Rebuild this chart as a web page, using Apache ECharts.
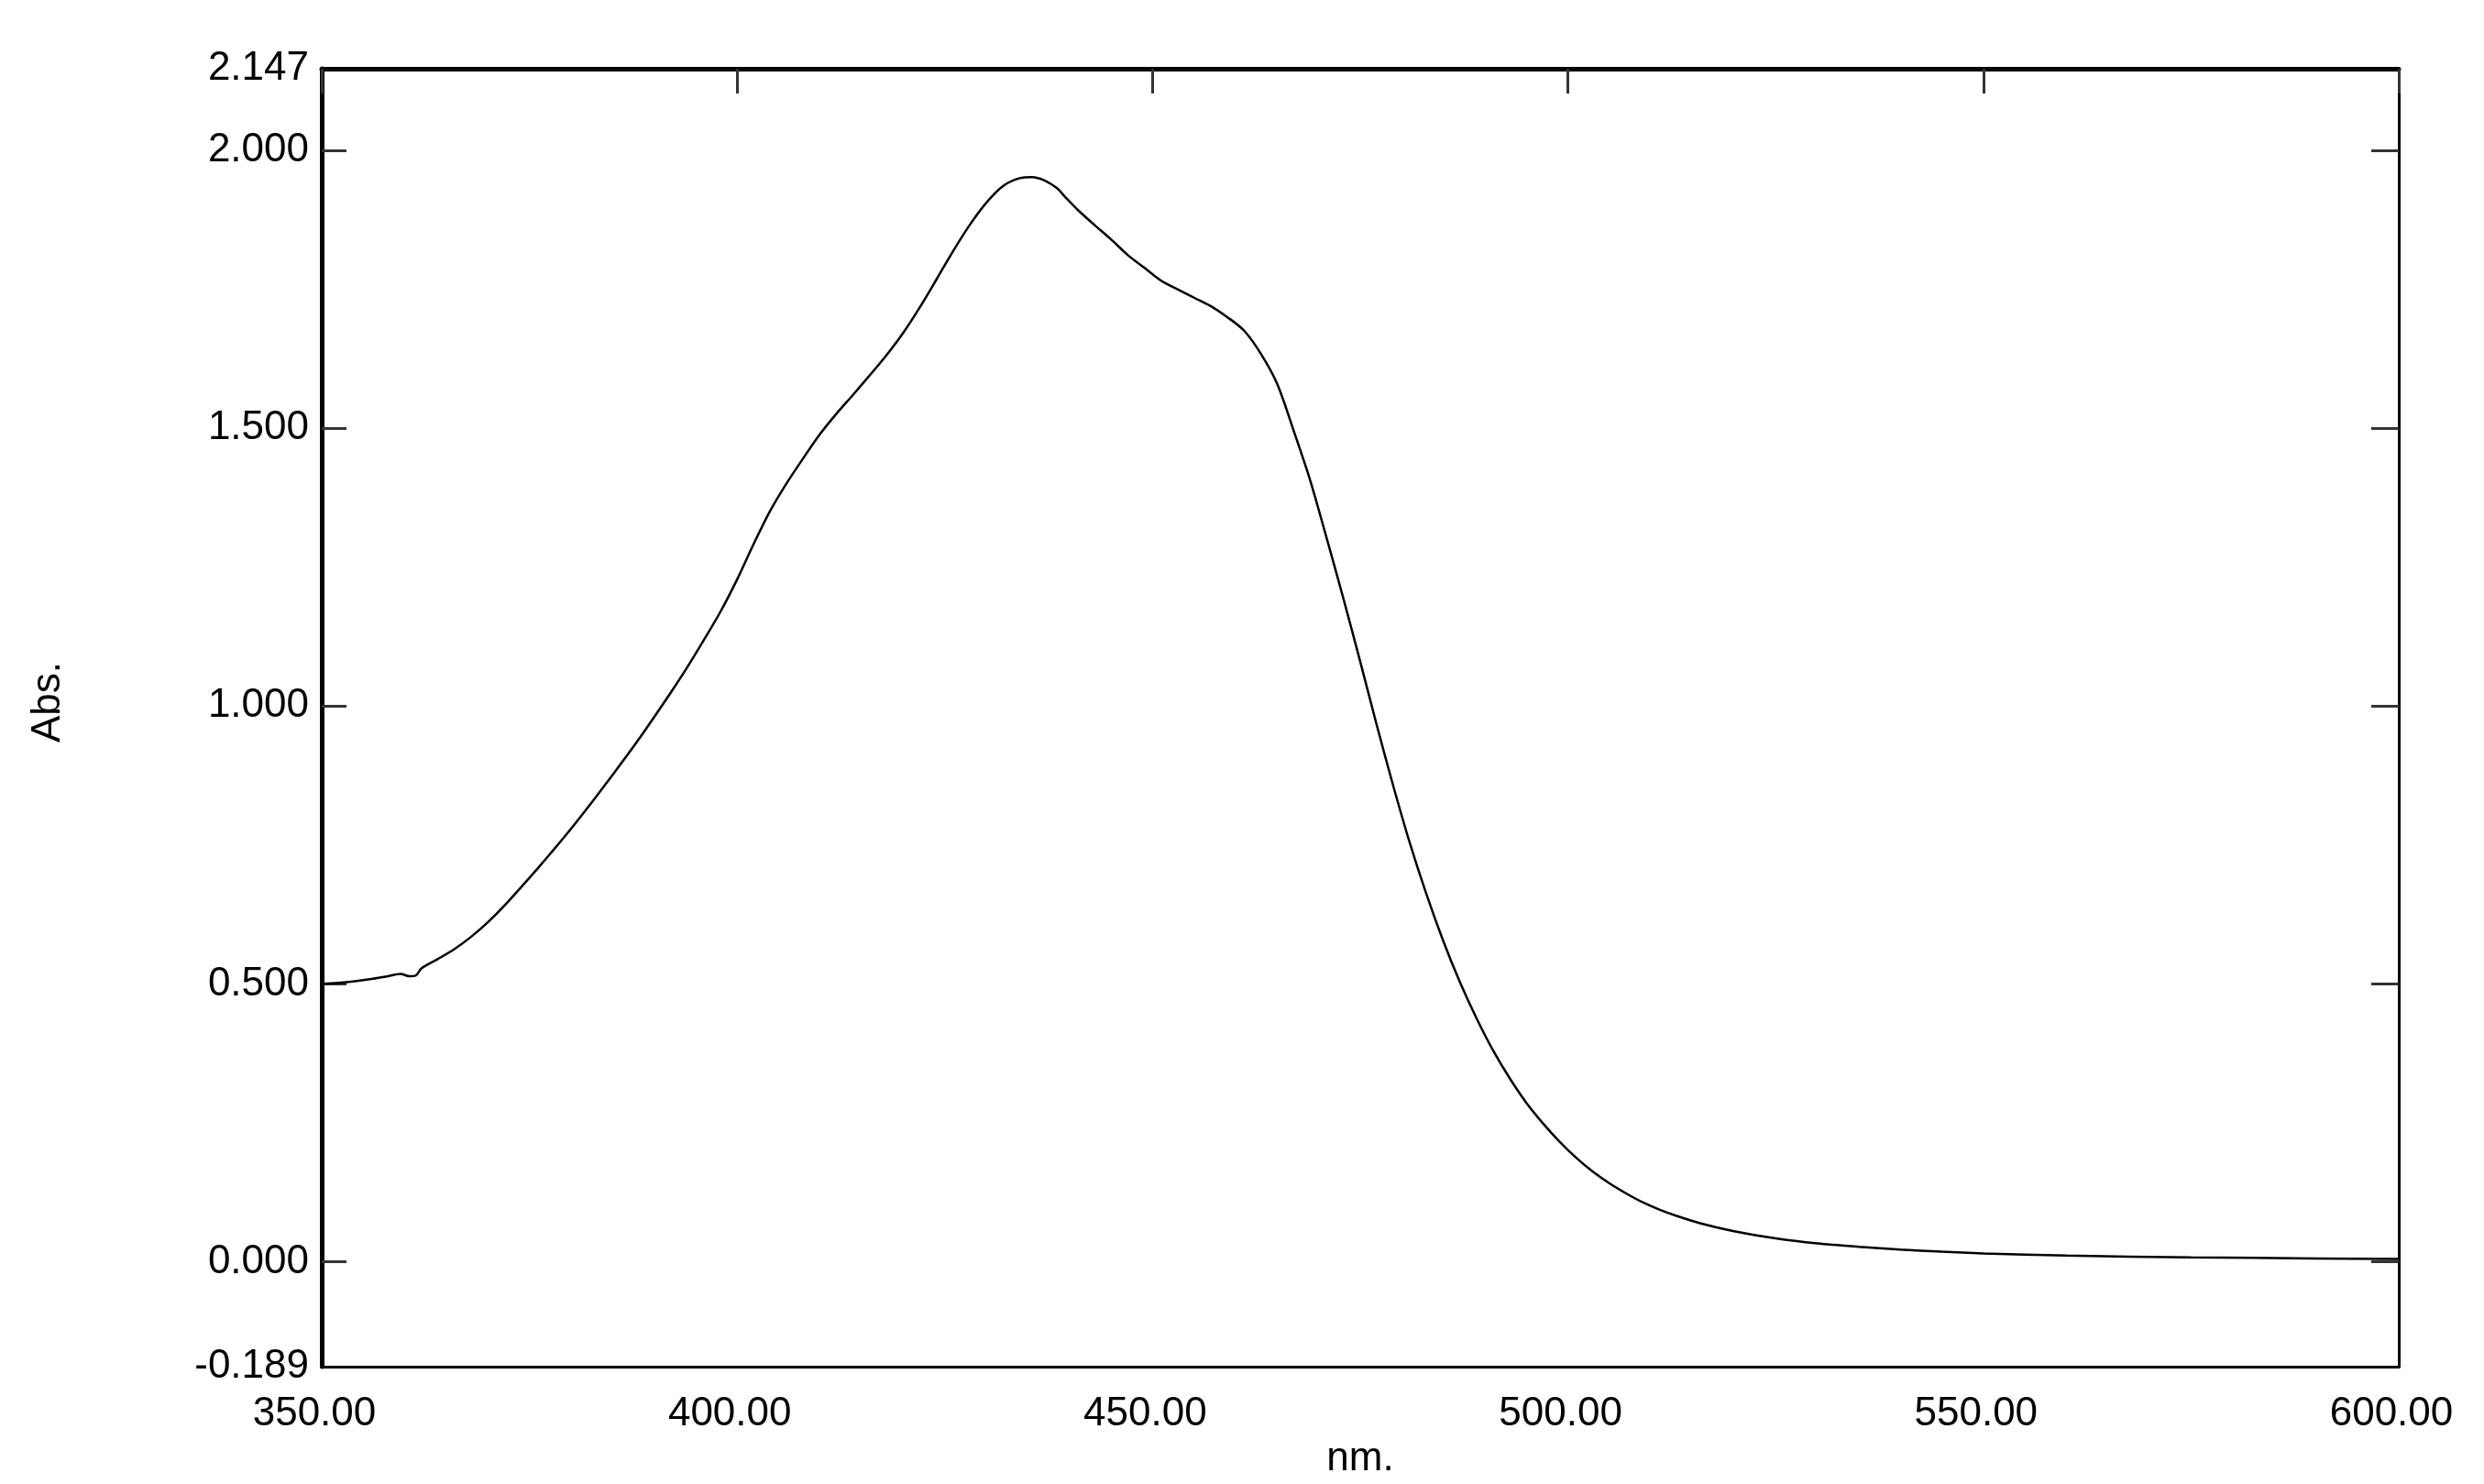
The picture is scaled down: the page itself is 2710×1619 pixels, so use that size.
<!DOCTYPE html>
<html>
<head>
<meta charset="utf-8">
<script src="https://cdn.jsdelivr.net/npm/echarts@6/dist/echarts.min.js"></script>
<style>
html,body{margin:0;padding:0;background:#fff;}
#chart{width:2710px;height:1619px;}
</style>
</head>
<body>
<div id="chart"></div>
<script>
// Wavelength (nm)
const wavelengths = [350, 352, 354, 356, 358, 359.5, 360.5, 361.3, 362, 364,
  366, 368, 370, 372, 374, 376, 378, 380, 382, 384,
  386, 388, 390, 392, 394, 396, 398, 400, 402, 404,
  406, 408, 410, 412, 414, 416, 418, 420, 422, 424,
  426, 428, 430, 432, 434, 435.5, 437, 438.5, 439.5, 441,
  443, 445, 447, 449, 451, 453, 455, 457, 459, 461,
  463, 465, 467, 469, 471, 473, 475, 477, 479, 481,
  483, 485, 487, 489, 491, 493, 495, 497, 499, 501,
  503, 505, 507, 509, 511, 513, 516, 520, 525, 530,
  535, 540, 545, 550, 560, 575, 590, 600];
// Absorbance
const absorbance = [0.500, 0.502, 0.505, 0.509, 0.514, 0.518, 0.514, 0.515, 0.528, 0.545,
  0.563, 0.585, 0.611, 0.641, 0.674, 0.708, 0.743, 0.779, 0.817, 0.856,
  0.896, 0.937, 0.980, 1.024, 1.070, 1.119, 1.170, 1.228, 1.292, 1.352,
  1.402, 1.447, 1.490, 1.527, 1.561, 1.596, 1.632, 1.672, 1.718, 1.768,
  1.819, 1.866, 1.906, 1.936, 1.950, 1.952, 1.946, 1.932, 1.916, 1.893,
  1.866, 1.840, 1.812, 1.789, 1.766, 1.750, 1.735, 1.720, 1.700, 1.676,
  1.635, 1.580, 1.495, 1.405, 1.300, 1.192, 1.080, 0.965, 0.855, 0.752,
  0.660, 0.577, 0.503, 0.438, 0.380, 0.330, 0.286, 0.249, 0.216, 0.187,
  0.162, 0.141, 0.123, 0.107, 0.094, 0.083, 0.069, 0.055, 0.042, 0.033,
  0.027, 0.022, 0.018, 0.015, 0.011, 0.008, 0.006, 0.005];
// Axis tick / label values
const xTicks = [350, 400, 450, 500, 550, 600];
const yLabelValues = [-0.189, 0, 0.5, 1, 1.5, 2, 2.147];
const yTickValues = [0, 0.5, 1, 1.5, 2];
const xMin = 350, xMax = 600, yMin = -0.189, yMax = 2.147;

const FONT = '"Liberation Sans", Arial, sans-serif';
const chart = echarts.init(document.getElementById('chart'));
const pairs = wavelengths.map((w, i) => [w, absorbance[i]]);

const tickStyle = {color: '#333', width: 3};
chart.setOption({
  animation: false,
  backgroundColor: '#fff',
  grid: {left: 351, right: 93, top: 75, bottom: 126, containLabel: false},
  xAxis: [
    {
      type: 'value', min: xMin, max: xMax, interval: 50, position: 'bottom',
      axisLine: {show: true, onZero: false, lineStyle: {color: '#000', width: 3}},
      axisTick: {show: false},
      axisLabel: {show: true, customValues: xTicks, formatter: v => Number(v).toFixed(2),
        fontSize: 44, fontFamily: FONT, color: '#000', margin: 30, padding: [0, 16, 0, 0]},
      splitLine: {show: false},
      name: 'nm.', nameLocation: 'middle', nameGap: 70,
      nameTextStyle: {fontSize: 44, fontFamily: FONT, color: '#000'}
    },
    {
      type: 'value', min: xMin, max: xMax, interval: 50, position: 'top',
      axisLine: {show: true, onZero: false, lineStyle: {color: '#000', width: 5}},
      axisTick: {show: true, inside: true, length: 27, customValues: xTicks, lineStyle: tickStyle},
      axisLabel: {show: false},
      splitLine: {show: false}
    }
  ],
  yAxis: [
    {
      type: 'value', min: yMin, max: yMax, position: 'left',
      axisLine: {show: true, onZero: false, lineStyle: {color: '#000', width: 5}},
      axisTick: {show: true, inside: true, length: 27, customValues: yTickValues, lineStyle: tickStyle},
      axisLabel: {show: true, customValues: yLabelValues, formatter: v => Number(v).toFixed(3),
        fontSize: 44, fontFamily: FONT, color: '#000', margin: 14},
      splitLine: {show: false}
    },
    {
      type: 'value', min: yMin, max: yMax, position: 'right',
      axisLine: {show: true, onZero: false, lineStyle: {color: '#000', width: 3}},
      axisTick: {show: true, inside: true, length: 30, customValues: yTickValues, lineStyle: tickStyle},
      axisLabel: {show: false},
      splitLine: {show: false}
    }
  ],
  graphic: [{
    type: 'text', x: 53, y: 766, rotation: Math.PI / 2,
    style: {text: 'Abs.', fontSize: 44, fontFamily: FONT, fill: '#000',
      align: 'center', verticalAlign: 'middle'}
  }],
  series: [{
    type: 'line', xAxisIndex: 0, yAxisIndex: 0,
    data: pairs, showSymbol: false, symbol: 'none', smooth: 0.3,
    lineStyle: {color: '#000', width: 2.5}
  }]
});
</script>
</body>
</html>
